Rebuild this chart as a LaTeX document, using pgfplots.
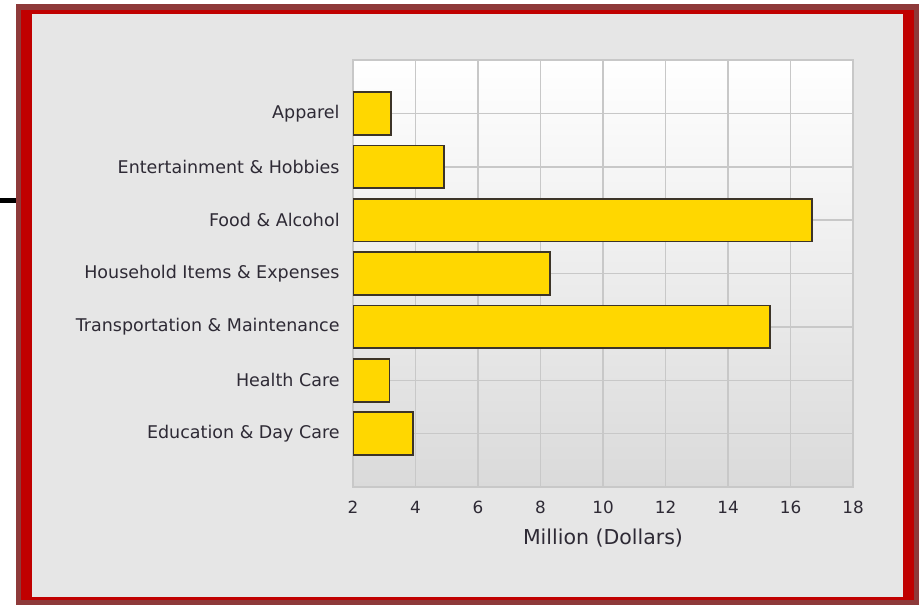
\documentclass[border=0pt]{standalone}
\usepackage{pgfplots}
\pgfplotsset{compat=1.18}
\usepackage{fontspec}
\setmainfont{DejaVu Sans}
\definecolor{framedark}{HTML}{8E3A3A}
\definecolor{framered}{HTML}{C00000}
\definecolor{panel}{HTML}{E6E6E6}
\definecolor{gridc}{HTML}{C8C8C8}
\definecolor{barfill}{HTML}{FFD700}
\definecolor{bardraw}{HTML}{3C3428}
\definecolor{txt}{HTML}{2E2A35}
\definecolor{plotbottom}{HTML}{DADADA}
\begin{document}
\begin{tikzpicture}[x=0.5pt,y=0.5pt]
\useasboundingbox (0,0) rectangle (920,605);
\fill[white] (0,0) rectangle (920,605);
\fill[framedark] (16,0) rectangle (919,601);
\fill[framered] (21,5) rectangle (914,595);
\fill[panel] (32,8) rectangle (903,591);
\fill[black] (0,402) rectangle (16,407);
\begin{axis}[
  at={(176.5pt,59pt)}, anchor=south west,
  scale only axis, width=250pt, height=213.5pt,
  xmin=2, xmax=18, ymin=0, ymax=8,
  xtick={2,4,...,18},
  ytick={1,...,7},
  yticklabels={Education \& Day Care, Health Care, Transportation \& Maintenance, Household Items \& Expenses, Food \& Alcohol, Entertainment \& Hobbies, Apparel},
  xbar, bar width=0.8,
  grid=major,
  major grid style={color=gridc, line width=0.75pt},
  axis line style={color=gridc, line width=0.75pt},
  major tick length=0pt,
  axis background/.style={shade, top color=white, bottom color=plotbottom},
  /pgf/number format/assume math mode=true,
  tick label style={text=txt},
  yticklabel style={font=\fontsize{8.75}{10}\selectfont, anchor=east, inner sep=0pt, xshift=-6.5pt},
  xticklabel style={font=\fontsize{8.4}{10}\selectfont, anchor=north, inner sep=0pt, yshift=-7pt},
  xlabel={Million (Dollars)},
  xlabel style={font=\fontsize{10.25}{12}\selectfont, text=txt, at={(axis description cs:0.5,0)}, anchor=center, yshift=-25.5pt},
]
\addplot[fill=barfill, draw=bardraw, line width=0.9pt] coordinates {
  (3.93,1) (3.17,2) (15.35,3) (8.31,4) (16.69,5) (4.90,6) (3.22,7)
};
\end{axis}
\end{tikzpicture}
\end{document}
